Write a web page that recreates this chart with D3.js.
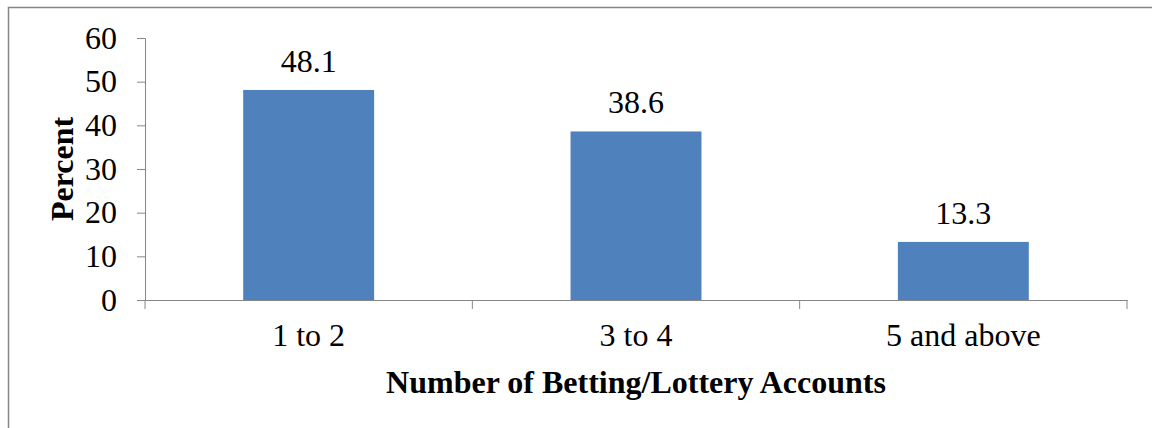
<!DOCTYPE html>
<html>
<head>
<meta charset="utf-8">
<script src="https://cdn.jsdelivr.net/npm/d3@7"></script>
<style>
  body { margin: 0; background: #fff; }
  text { font-family: "Liberation Serif", "Times New Roman", serif; fill: #000; }
</style>
</head>
<body>
<script>
// chart values
var categories = ["1 to 2", "3 to 4", "5 and above"];
var percents = [48.1, 38.6, 13.3];
var yTicks = [0, 10, 20, 30, 40, 50, 60];

var w = 1152;
var h = 428;
var plotLeft = 145, plotRight = 1127, plotTop = 38, plotBottom = 300;

var svg = d3.select("body")
            .append("svg")
            .attr("width", w)
            .attr("height", h);

// outer frame of the chart area (runs past the right and bottom edge)
svg.append("rect")
   .attr("x", 8.5).attr("y", 7.5)
   .attr("width", 1300).attr("height", 600)
   .attr("fill", "none")
   .attr("stroke", "#868686")
   .attr("stroke-width", 1.5);

var x = d3.scaleBand()
          .domain(categories)
          .range([plotLeft, plotRight])
          .paddingInner(0.6)
          .paddingOuter(0.3);

var y = d3.scaleLinear()
          .domain([0, 60])
          .range([plotBottom, plotTop]);

// bars
svg.selectAll("rect.bar")
   .data(percents)
   .enter()
   .append("rect")
   .attr("class", "bar")
   .attr("x", function(d, i) { return x(categories[i]); })
   .attr("y", function(d) { return y(d); })
   .attr("width", x.bandwidth())
   .attr("height", function(d) { return y(0) - y(d); })
   .attr("fill", "#4F81BD");

// value labels
svg.selectAll("text.val")
   .data(percents)
   .enter()
   .append("text")
   .attr("class", "val")
   .attr("x", function(d, i) { return x(categories[i]) + x.bandwidth() / 2; })
   .attr("y", function(d) { return y(d) - 18; })
   .attr("text-anchor", "middle")
   .attr("font-size", "32px")
   .text(function(d) { return d.toFixed(1); });

// y axis
var yAxis = svg.append("g")
   .attr("transform", "translate(" + plotLeft + ",0)")
   .call(d3.axisLeft(y).tickValues(yTicks).tickSize(8).tickPadding(20));
yAxis.selectAll("text")
   .attr("font-size", "32px")
   .style("font-family", "Liberation Serif");

// x axis: labels at band centres, ticks at band edges
var xAxis = svg.append("g")
   .attr("transform", "translate(0," + plotBottom + ")")
   .call(d3.axisBottom(x).tickSize(0).tickPadding(23));
xAxis.selectAll("text")
   .attr("font-size", "32px")
   .style("font-family", "Liberation Serif");

var edges = categories.map(function(c) { return x(c) - x.step() * x.paddingInner() / 2; });
edges[0] = plotLeft;
edges.push(plotRight);
xAxis.selectAll("line.edge")
   .data(edges)
   .enter()
   .append("line")
   .attr("class", "edge")
   .attr("x1", function(d) { return d; })
   .attr("x2", function(d) { return d; })
   .attr("y1", 0)
   .attr("y2", 9)
   .attr("stroke", "#868686");

svg.selectAll(".domain").attr("stroke", "#868686");
svg.selectAll(".tick line").attr("stroke", "#868686");

// axis titles
svg.append("text")
   .attr("x", (plotLeft + plotRight) / 2 + 0)
   .attr("y", 393)
   .attr("text-anchor", "middle")
   .attr("font-size", "32px")
   .attr("font-weight", "bold")
   .text("Number of Betting/Lottery Accounts");

svg.append("text")
   .attr("transform", "translate(73," + ((plotTop + plotBottom) / 2) + ") rotate(-90)")
   .attr("text-anchor", "middle")
   .attr("font-size", "32px")
   .attr("font-weight", "bold")
   .text("Percent");
</script>
</body>
</html>
